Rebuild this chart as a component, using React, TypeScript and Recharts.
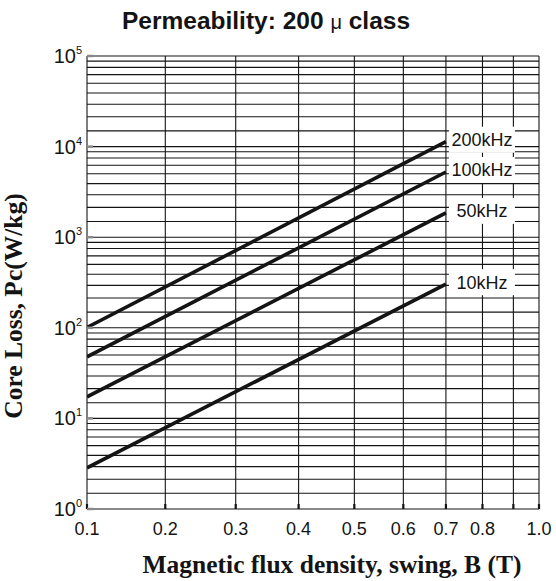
import React from 'react'
import { LineChart, Line, XAxis, YAxis, CartesianGrid, LabelList } from 'recharts'

// B swing (T) at the two ends of each loss line
const fluxDensity = [0.1, 0.7]
// core loss Pc (W/kg) per frequency, read at B = 0.1 and 0.7
const loss200k = [102, 13000]
const loss100k = [58, 6200]
const loss50k = [24, 2600]
const loss10k = [3.9, 410]
const seriesNames = ['200kHz', '100kHz', '50kHz', '10kHz']

const xTicks = [0.1, 0.2, 0.3, 0.4, 0.5, 0.6, 0.7, 0.8, 0.9, 1.0]
const xTickLabels = ['0.1', '0.2', '0.3', '0.4', '0.5', '0.6', '0.7', '0.8', '', '1.0']
const yTicks = [1, 10, 100, 1000, 10000, 100000]

const data = fluxDensity.map((b, i) => ({
  b,
  f200: loss200k[i],
  f100: loss100k[i],
  f50: loss50k[i],
  f10: loss10k[i],
}))

// minor grid: 1..9 x 10^n
const yGrid: number[] = []
for (let e = 0; e < 5; e++) for (let m = 1; m < 10; m++) yGrid.push(m * 10 ** e)
yGrid.push(100000)

const SANS = "'Liberation Sans', Arial, Helvetica, sans-serif"
const SERIF = "'Liberation Serif', 'Times New Roman', serif"
const INK = '#141414'

// The printed graph paper is not a true log paper: inside every decade the
// lines 2..9 are spaced by a smooth curve, not by log10. Same curve on both axes.
function paperPos(v: number) {
  const e = Math.floor(Math.log10(v) + 1e-9)
  const u = (v / 10 ** e - 1) / 9
  return e + u + u * (1 - u) * (0.64 - 0.1 * u)
}

// d3-like scale for the B axis built on the paper spacing
function fluxScale(): any {
  let dom = [0.1, 1]
  let rng = [0, 1]
  const scale: any = (v: number) => {
    const p0 = paperPos(dom[0])
    const p1 = paperPos(dom[1])
    return rng[0] + ((rng[1] - rng[0]) * (paperPos(Number(v)) - p0)) / (p1 - p0)
  }
  scale.domain = (d?: number[]) => {
    if (d === undefined) return dom.slice()
    dom = [Number(d[0]), Number(d[d.length - 1])]
    return scale
  }
  scale.range = (r?: number[]) => {
    if (r === undefined) return rng.slice()
    rng = [Number(r[0]), Number(r[r.length - 1])]
    return scale
  }
  scale.copy = () => fluxScale().domain(dom).range(rng)
  scale.ticks = () => xTicks
  scale.clamp = () => scale
  scale.invert = (px: number) => {
    let lo = dom[0]
    let hi = dom[1]
    for (let k = 0; k < 40; k++) {
      const mid = (lo + hi) / 2
      if (scale(mid) < px) lo = mid
      else hi = mid
    }
    return (lo + hi) / 2
  }
  return scale
}

const FluxTick = (p: any) => {
  const i = xTicks.findIndex((t) => Math.abs(t - p.payload.value) < 1e-6)
  return (
    <text x={p.x} y={535} textAnchor="middle" fontFamily={SANS} fontSize={18} fill={INK}>
      {xTickLabels[i]}
    </text>
  )
}

const PowerTick = (p: any) => (
  <text x={82} y={p.y + 7} textAnchor="end" fontFamily={SANS} fontSize={20} fill={INK}>
    10
    <tspan dy={-9} fontSize={11}>
      {Math.round(p.payload.value)}
    </tspan>
  </text>
)

const endLabel = (name: string) => (p: any) => {
  if (p.index !== fluxDensity.length - 1) return null
  const cx = Number(p.x) + 36
  const cy = Number(p.y) - 2
  return (
    <g>
      <rect x={cx - 33} y={cy - 13} width={66} height={26} fill="#fff" />
      <text x={cx} y={cy + 6.5} textAnchor="middle" fontFamily={SANS} fontSize={18} fill={INK}>
        {name}
      </text>
    </g>
  )
}

const seriesKeys = ['f200', 'f100', 'f50', 'f10']

export default function App() {
  return (
    <div style={{ position: 'absolute', left: 0, top: 0, width: 556, height: 581, background: '#fff' }}>
      <LineChart width={556} height={581} data={data} margin={{ top: 56, right: 17, bottom: 0, left: 0 }}>
        <CartesianGrid
          horizontalValues={yGrid.map(paperPos)}
          verticalValues={xTicks}
          stroke={INK}
          strokeWidth={1.1}
          strokeOpacity={1}
        />
        <XAxis
          dataKey="b"
          type="number"
          scale={fluxScale()}
          domain={[0.1, 1]}
          ticks={xTicks}
          allowDataOverflow
          height={72}
          axisLine={false}
          tickLine={{ stroke: INK, strokeWidth: 2.2 }}
          tickSize={-5}
          tick={<FluxTick />}
          interval={0}
        />
        {/* y values are placed by their position on the paper (decades 0..5) */}
        <YAxis
          type="number"
          domain={[0, 5]}
          ticks={yTicks.map(paperPos)}
          allowDataOverflow
          width={87}
          axisLine={false}
          tickLine={{ stroke: '#8a8a8a', strokeWidth: 2.5 }}
          tickSize={-6}
          tick={<PowerTick />}
          interval={0}
        />
        {seriesKeys.map((k, i) => (
          <Line
            key={k}
            dataKey={(d: any) => paperPos(d[k])}
            type="linear"
            stroke={INK}
            strokeWidth={3.6}
            dot={false}
            activeDot={false}
            isAnimationActive={false}
          >
            <LabelList dataKey={k} content={endLabel(seriesNames[i])} />
          </Line>
        ))}
      </LineChart>
      <svg width={556} height={581} style={{ position: 'absolute', left: 0, top: 0, pointerEvents: 'none' }}>
        <text x={122} y={29} fontFamily={SANS} fontWeight="bold" fontSize={24.5} fill={INK}>
          Permeability: 200{' '}
          <tspan fontWeight="normal" fontSize={20}>
            μ
          </tspan>{' '}
          class
        </text>
        <text x={332} y={573} textAnchor="middle" fontFamily={SERIF} fontWeight="bold" fontSize={25.5} fill={INK}>
          Magnetic flux density, swing, B (T)
        </text>
        <text
          transform="translate(22,306) rotate(-90)"
          textAnchor="middle"
          fontFamily={SERIF}
          fontWeight="bold"
          fontSize={25.5}
          fill={INK}
        >
          Core Loss, Pc(W/kg)
        </text>
      </svg>
    </div>
  )
}
